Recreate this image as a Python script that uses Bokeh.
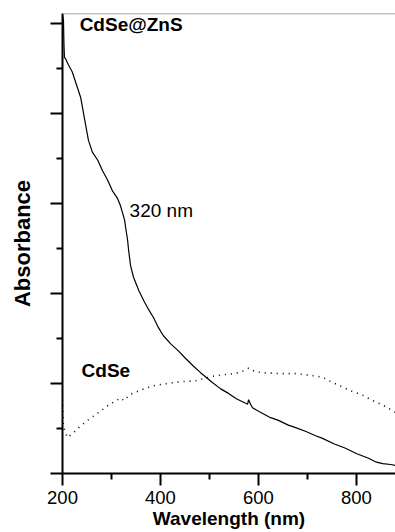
from bokeh.plotting import figure
from bokeh.models import FixedTicker, Span, Range1d, Label, CustomJSTickFormatter
from bokeh.embed import file_html
from bokeh.resources import INLINE

# CdSe@ZnS absorbance (solid)
znS_wl = [200, 202, 203, 204, 206, 212, 220, 229, 237, 245, 253, 261, 272, 282, 292, 302,
          312, 318, 323, 327, 329, 333, 335, 339, 345, 356, 366, 376, 386, 396, 406, 421,
          435, 451, 466, 482, 506, 523, 539, 555, 574, 578, 580, 584, 588, 604, 625, 641,
          660, 676, 696, 717, 731, 754, 778, 801, 825, 839, 854, 870, 880]
znS_abs = [5.10, 5.03, 4.76, 4.62, 4.61, 4.54, 4.46, 4.31, 4.18, 3.94, 3.70, 3.57, 3.48, 3.36,
           3.26, 3.14, 3.06, 2.98, 2.89, 2.81, 2.73, 2.59, 2.48, 2.31, 2.18, 2.03, 1.92, 1.82,
           1.73, 1.62, 1.53, 1.44, 1.37, 1.28, 1.20, 1.12, 1.01, 0.94, 0.89, 0.83, 0.78, 0.77,
           0.82, 0.77, 0.73, 0.68, 0.62, 0.59, 0.54, 0.51, 0.47, 0.42, 0.39, 0.33, 0.28, 0.22,
           0.17, 0.13, 0.11, 0.10, 0.09]

# CdSe absorbance (dotted)
cdse_wl = [200, 201, 202, 206, 210, 220, 231, 251, 272, 294, 319, 325, 339, 366, 390, 415,
           441, 472, 506, 533, 553, 570, 580, 594, 609, 645, 676, 707, 731, 748, 764, 788,
           813, 833, 854, 880]
cdse_abs = [0.76, 0.64, 0.51, 0.46, 0.40, 0.44, 0.50, 0.59, 0.67, 0.76, 0.84, 0.81, 0.88, 0.94,
            0.98, 1.00, 1.02, 1.03, 1.08, 1.10, 1.11, 1.14, 1.17, 1.13, 1.12, 1.11, 1.11, 1.09,
            1.07, 1.02, 0.98, 0.92, 0.87, 0.81, 0.76, 0.68]

x_major = [200, 400, 600, 800]
x_minor = [300, 500, 700]
y_major = [0, 1, 2, 3, 4, 5]
y_minor = [0.5, 1.5, 2.5, 3.5, 4.5]

FONT = "Liberation Sans"

p = figure(frame_width=333, frame_height=460, output_backend="svg", toolbar_location=None,
           x_range=Range1d(200, 880), y_range=Range1d(0, 5.11),
           min_border_left=62, min_border_right=0, min_border_top=13, min_border_bottom=40,
           x_axis_label="Wavelength (nm)", y_axis_label="Absorbance")
p.outline_line_color = None
p.grid.grid_line_color = None
p.background_fill_color = "white"

p.line(znS_wl, znS_abs, line_color="black", line_width=1.2)
p.line(cdse_wl, cdse_abs, line_color="black", line_width=1.6, line_dash="1 5")

p.add_layout(Span(location=5.11, dimension="width", line_color="#888888", line_width=1.5))

for ax in (p.xaxis[0], p.yaxis[0]):
    ax.axis_line_width = 2
    ax.major_tick_line_width = 2
    ax.minor_tick_line_width = 2
    ax.major_tick_in = 0
    ax.minor_tick_in = 0
    ax.major_tick_out = 12
    ax.minor_tick_out = 6
    ax.axis_label_text_font = FONT
    ax.axis_label_text_font_style = "bold"
    ax.axis_label_text_color = "black"
    ax.major_label_text_font = FONT
    ax.major_label_text_color = "black"

p.xaxis.ticker = FixedTicker(ticks=x_major, minor_ticks=x_minor)
p.yaxis.ticker = FixedTicker(ticks=y_major, minor_ticks=y_minor)
p.xaxis.major_label_text_font_size = "18.5px"
p.xaxis.major_label_standoff = 5
p.xaxis.axis_label_text_font_size = "19px"
p.xaxis.axis_label_standoff = 1
p.yaxis.formatter = CustomJSTickFormatter(code="return ''")
p.yaxis.major_label_standoff = 0
p.yaxis.axis_label_text_font_size = "22px"
p.yaxis.axis_label_standoff = 16

p.add_layout(Label(x=235, y=4.99, text="CdSe@ZnS", text_font=FONT, text_font_style="bold",
                   text_font_size="19px", text_baseline="middle", text_color="black"))
p.add_layout(Label(x=337, y=2.92, text="320 nm", text_font=FONT,
                   text_font_size="19px", text_baseline="middle", text_color="black"))
p.add_layout(Label(x=239, y=1.14, text="CdSe", text_font=FONT, text_font_style="bold",
                   text_font_size="19px", text_baseline="middle", text_color="black"))

open("out.html", "w").write(file_html(p, INLINE))
